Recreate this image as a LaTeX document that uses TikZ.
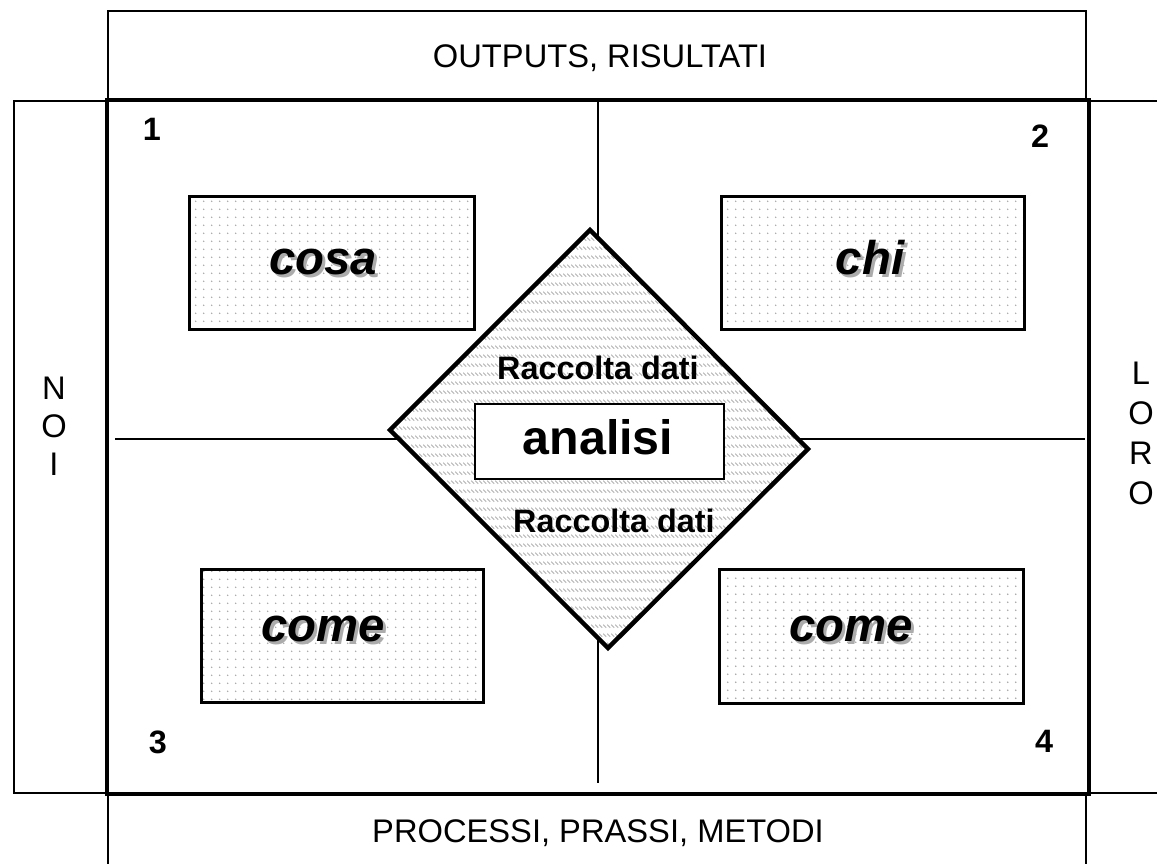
\documentclass[tikz,border=0pt]{standalone}
\usepackage{fontspec}
\setmainfont{Liberation Sans}
\usetikzlibrary{patterns.meta}
\tikzdeclarepattern{name=dotgrid,type=uncolored,
  bounding box={(0,0) and (7.7bp,7.7bp)},tile size={(7.7bp,7.7bp)},
  code={\fill (3.85bp,3.85bp) circle (0.85bp);}}
\tikzdeclarepattern{name=hatch,type=uncolored,
  bounding box={(0,0) and (3.8bp,8.6bp)},tile size={(3.8bp,8.6bp)},
  code={\draw[line width=0.9bp] (0.2bp,6.6bp) -- (3.4bp,3.4bp);}}
\newcommand\fnorm{\fontsize{32.8}{38}\selectfont}
\newcommand\fnum{\fontsize{32.5}{38}\selectfont\bfseries}
\newcommand\fbig{\fontsize{47.5}{52}\selectfont\bfseries\itshape}
\newcommand\fana{\fontsize{48.5}{52}\selectfont\bfseries}
\tikzset{
  frame/.style={draw, line width=2bp, anchor=north west, inner sep=0pt},
  mainframe/.style={draw, line width=3.5bp, anchor=north west, inner sep=0pt},
  dotbox/.style={draw, line width=2.5bp, anchor=north west, inner sep=0pt,
     pattern={dotgrid}, pattern color=gray!70},
  lbl/.style={anchor=base, inner sep=0pt, text=black},
  shadow/.style={anchor=base, inner sep=0pt, text=gray!65},
  divider/.style={line width=2bp},
}
\begin{document}
\begin{tikzpicture}[x=1bp,y=-1bp]
\useasboundingbox (0,0) rectangle (1157,864);
\fill[white] (0,0) rectangle (1157,864);

% outer frames
\node[frame, minimum width=978bp, minimum height=88bp] (top) at (107,10) {};
\node[frame, minimum width=92bp, minimum height=692bp] (noi) at (13,100) {};
\node[frame, minimum width=160bp, minimum height=692bp] (loro) at (1087,100) {};
\node[frame, minimum width=978bp, minimum height=130bp] (bottom) at (107,792) {};
\node[mainframe, minimum width=982bp, minimum height=694bp] (main) at (105,98) {};

% dividers
\coordinate (vtop) at (598,99);
\coordinate (vbot) at (598,783);
\coordinate (hl) at (115,439);
\coordinate (hr) at (1085,439);
\draw[divider] (vtop) -- (vbot);
\draw[divider] (hl) -- (hr);

% dotted boxes
\node[dotbox, minimum width=285bp, minimum height=133bp] (cosabox) at (188,195) {};
\node[dotbox, minimum width=303bp, minimum height=133bp] (chibox) at (720,195) {};
\node[dotbox, minimum width=282bp, minimum height=133bp] (comeLbox) at (200,568) {};
\node[dotbox, minimum width=304bp, minimum height=134bp] (comeRbox) at (718,568) {};

\node[shadow] at (326,277) {\fbig cosa};
\node[lbl] (cosa) at (323,274) {\fbig cosa};
\node[shadow] at (873,277) {\fbig chi};
\node[lbl] (chi) at (870,274) {\fbig chi};
\node[shadow] at (326,644) {\fbig come};
\node[lbl] (comeL) at (323,641) {\fbig come};
\node[shadow] at (854,644) {\fbig come};
\node[lbl] (comeR) at (851,641) {\fbig come};

% diamond
\coordinate (dT) at (590,230);
\coordinate (dR) at (808,449);
\coordinate (dB) at (608,648);
\coordinate (dL) at (390,430);
\fill[white] (dT) -- (dR) -- (dB) -- (dL) -- cycle;
\fill[pattern={hatch}, pattern color=gray!60] (dT) -- (dR) -- (dB) -- (dL) -- cycle;
\draw[line width=4.5bp, line join=miter] (dT) -- (dR) -- (dB) -- (dL) -- cycle;

\node[draw, fill=white, line width=2bp, anchor=north west, inner sep=0pt,
      minimum width=249bp, minimum height=75bp] (anbox) at (474,403) {};
\node[lbl] (analisi) at (598,454) {\fana analisi};
\node[lbl] (rd1) at (598,379) {\fnum Raccolta dati};
\node[lbl] (rd2) at (614,532) {\fnum Raccolta dati};

% numbers
\node[lbl] (n1) at (152,140) {\fnum 1};
\node[lbl] (n2) at (1040,147) {\fnum 2};
\node[lbl] (n3) at (158,753) {\fnum 3};
\node[lbl] (n4) at (1044,752) {\fnum 4};

% side texts
\node[lbl] (outputs) at (600,67) {\fnorm OUTPUTS, RISULTATI};
\node[lbl] (processi) at (598,842) {\fnorm PROCESSI, PRASSI, METODI};

\node[lbl] (noiN) at (54,399) {\fnorm N};
\node[lbl] (noiO) at (54,437) {\fnorm O};
\node[lbl] (noiI) at (54,475) {\fnorm I};

\node[lbl] (loroL) at (1141,384) {\fnorm L};
\node[lbl] (loroO) at (1141,424) {\fnorm O};
\node[lbl] (loroR) at (1141,464) {\fnorm R};
\node[lbl] (loroO2) at (1141,504) {\fnorm O};
\end{tikzpicture}
\end{document}
